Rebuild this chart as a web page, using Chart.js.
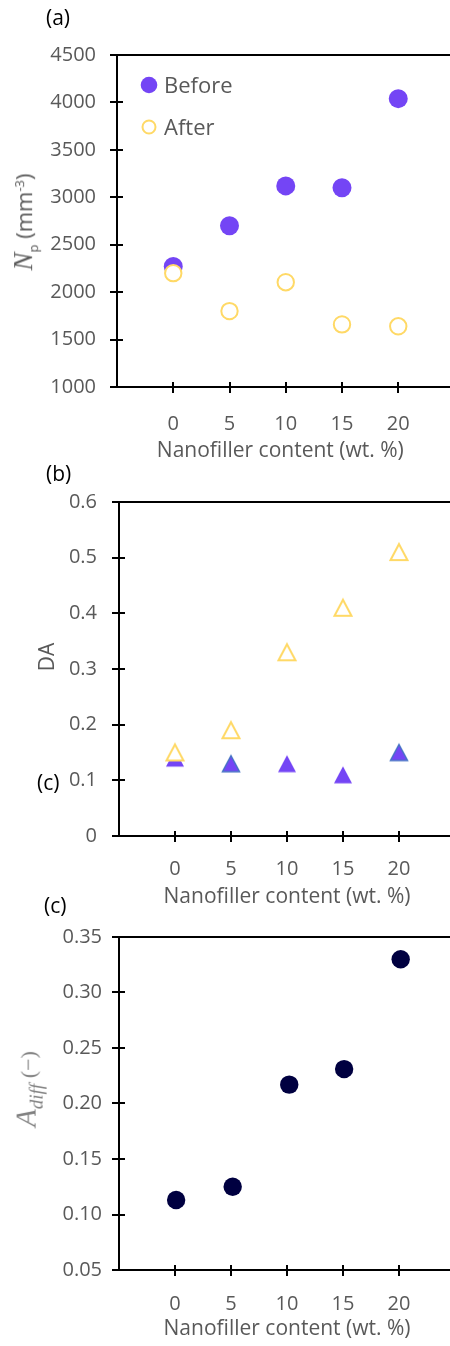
<!DOCTYPE html>
<html>
<head>
<meta charset="utf-8">
<script src="https://cdn.jsdelivr.net/npm/chart.js@4.4.1/dist/chart.umd.min.js"></script>
<style>
  html, body { margin: 0; padding: 0; background: #fff; overflow: hidden; }
  body { width: 450px; height: 1346px; position: relative; font-family: 'Open Sans', sans-serif; }
  canvas { position: absolute; left: 0; }
  .lbl { position: absolute; color: #000; font-size: 21px; line-height: 22px; white-space: nowrap; }
  .ytitle { position: absolute; color: #595959; font-size: 22px; line-height: 26px; white-space: nowrap;
            transform: translate(-50%, -50%) rotate(-90deg); }
  .ytitle .m { font-family: 'Liberation Serif', serif; font-style: italic; }
</style>
</head>
<body>
<canvas id="chartA" width="456" height="470" style="top:0"></canvas>
<canvas id="chartB" width="456" height="440" style="top:470px"></canvas>
<canvas id="chartC" width="456" height="436" style="top:910px"></canvas>

<div class="lbl" style="left:46px; top:6px">(a)</div>
<div class="lbl" style="left:46px; top:462px">(b)</div>
<div class="lbl" style="left:37px; top:771px">(c)</div>
<div class="lbl" style="left:44px; top:894px">(c)</div>

<div class="ytitle" style="left:26px; top:222px"><span class="m" style="font-size:27px">N</span><sub style="font-size:13px">p</sub> (mm<sup style="font-size:13px">-3</sup>)</div>
<div class="ytitle" style="left:46px; top:657px; font-size:21px">DA</div>
<div class="ytitle" style="left:31px; top:1089px; color:#808080"><span class="m" style="font-size:29px">A<sub style="font-size:19px">diff</sub></span> <span style="font-family:'Liberation Serif',serif; font-size:22px">(&minus;)</span></div>

<script>
// nanofiller loadings (wt. %)
const contents = [0, 5, 10, 15, 20];
// particle density N_p (mm^-3)
const npBefore = [2270, 2700, 3120, 3100, 4040];
const npAfter = [2200, 1800, 2105, 1660, 1640];
// degree of anisotropy
const daBefore = [0.14, 0.13, 0.13, 0.11, 0.15];
const daAfter = [0.15, 0.19, 0.33, 0.41, 0.51];
// A_diff, loadings as plotted
const adiffContents = [0.1, 5.15, 10.2, 15.1, 20.15];
const adiff = [0.113, 0.125, 0.217, 0.231, 0.330];

// y tick ranges per panel
const npTicks = { min: 1000, max: 4500, step: 500 };
const daTicks = { min: 0, max: 0.6, step: 0.1 };
const adiffTicks = { min: 0.05, max: 0.35, step: 0.05 };

// DA "before" points that carry a blue edge
const edgedAt = [5, 20];

const PURPLE = '#7445F5';
const GOLD = '#FFD966';
const NAVY = '#000040';
const GREY = '#595959';
const FONT = { family: 'Open Sans', size: 20 };
const TITLE_FONT = { family: 'Open Sans', size: 21 };
const X_TITLE = 'Nanofiller content (wt. %)';

function pairs(xs, ys) {
  return xs.map((x, i) => ({ x: x, y: ys[i] }));
}

// triangle marker as a canvas so it sits centred on the point
function triangleMark(w, h, fill, stroke, lw) {
  const c = document.createElement('canvas');
  c.width = 24; c.height = 24;
  const g = c.getContext('2d');
  g.beginPath();
  g.moveTo(12, 12 - h / 2);
  g.lineTo(12 + w / 2, 12 + h / 2);
  g.lineTo(12 - w / 2, 12 + h / 2);
  g.closePath();
  g.fillStyle = fill;
  g.fill();
  if (stroke) {
    g.strokeStyle = stroke;
    g.lineWidth = lw;
    g.stroke();
  }
  return c;
}
const triPurple = triangleMark(18, 17, PURPLE);
const triEdged = triangleMark(17, 16, PURPLE, '#4472C4', 1.5);
const triHollow = triangleMark(17, 16, '#fff', GOLD, 2);

// cross ticks on both axes plus the top frame line
const axisDecor = {
  id: 'axisDecor',
  beforeDatasetsDraw(chart) {
    const { ctx, chartArea: a, scales: { x, y } } = chart;
    ctx.save();
    ctx.strokeStyle = '#000';
    ctx.lineWidth = 2;
    ctx.beginPath();
    ctx.moveTo(a.left - 7, a.top);
    ctx.lineTo(a.right, a.top);
    y.ticks.forEach(t => {
      const py = Math.round(y.getPixelForValue(t.value));
      ctx.moveTo(a.left - 7, py);
      ctx.lineTo(a.left + 6, py);
    });
    x.ticks.forEach(t => {
      if (t.value < contents[0] || t.value > contents[contents.length - 1]) return;
      const px = Math.round(x.getPixelForValue(t.value));
      ctx.moveTo(px, a.bottom - 5);
      ctx.lineTo(px, a.bottom + 6);
    });
    ctx.stroke();
    ctx.restore();
  }
};

// legend drawn inside the plot area of panel (a)
const insideLegend = {
  id: 'insideLegend',
  afterDraw(chart) {
    const { ctx, chartArea: a } = chart;
    ctx.save();
    ctx.font = '22px "Open Sans"';
    ctx.textBaseline = 'middle';
    chart.data.datasets.forEach((ds, i) => {
      const cx = a.left + 32, cy = a.top + 30 + i * 42;
      ctx.beginPath();
      if (ds.borderWidth) {
        ctx.arc(cx, cy, 6.5, 0, Math.PI * 2);
        ctx.fillStyle = '#fff';
        ctx.fill();
        ctx.lineWidth = 2;
        ctx.strokeStyle = ds.borderColor;
        ctx.stroke();
      } else {
        ctx.arc(cx, cy, 8.3, 0, Math.PI * 2);
        ctx.fillStyle = ds.backgroundColor;
        ctx.fill();
      }
      ctx.fillStyle = GREY;
      ctx.fillText(ds.label, a.left + 47, cy + 2);
    });
    ctx.restore();
  }
};

function panelOptions(p) {
  return {
    responsive: false,
    animation: false,
    events: [],
    layout: { autoPadding: false, padding: { top: p.top, left: 0, right: p.right, bottom: 0 } },
    plugins: { legend: { display: false }, tooltip: { enabled: false } },
    scales: {
      x: {
        type: 'linear', min: -5, max: 25,
        // fixed box; no extra room for overhanging labels
        afterFit: s => { s.height = p.xHeight; s.paddingLeft = 0; s.paddingRight = 0; },
        grid: { display: false, drawTicks: false },
        border: { color: '#000', width: 2 },
        ticks: {
          stepSize: 5, padding: p.xPad, color: GREY, font: FONT,
          autoSkip: false, maxRotation: 0,
          callback: v => (v < contents[0] || v > contents[contents.length - 1]) ? '' : v
        },
        title: {
          display: true, text: p.xTitle || X_TITLE, color: GREY, font: TITLE_FONT,
          padding: { top: 0, bottom: p.titlePad }
        }
      },
      y: {
        type: 'linear', min: p.ticks.min, max: p.ticks.max,
        afterFit: s => { s.width = p.yWidth; s.paddingTop = 0; s.paddingBottom = 0; },
        grid: { display: false, drawTicks: false },
        border: { color: '#000', width: 2 },
        ticks: {
          stepSize: p.ticks.step, padding: p.yPad, color: GREY, font: FONT,
          autoSkip: false, callback: p.fmt
        }
      }
    }
  };
}

// (a) particle density before / after
new Chart(document.getElementById('chartA'), {
  type: 'scatter',
  data: {
    datasets: [
      { label: 'Before', data: pairs(contents, npBefore), backgroundColor: PURPLE,
        borderColor: PURPLE, borderWidth: 0, pointRadius: 9.5, order: 1 },
      { label: 'After', data: pairs(contents, npAfter), backgroundColor: '#fff',
        borderColor: GOLD, borderWidth: 2, pointRadius: 8.2, order: 0 }
    ]
  },
  options: panelOptions({ top: 55, right: 1.5, xHeight: 83, titlePad: 6, xPad: 25,
                          xTitle: X_TITLE + '  ',
                          yWidth: 117, yPad: 21, ticks: npTicks, fmt: v => String(v) }),
  plugins: [axisDecor, insideLegend]
});

// (b) degree of anisotropy
new Chart(document.getElementById('chartB'), {
  type: 'scatter',
  data: {
    datasets: [
      { label: 'Before', data: pairs(contents, daBefore), pointRadius: 9, order: 1,
        pointStyle: c => edgedAt.includes(contents[c.dataIndex]) ? triEdged : triPurple },
      { label: 'After', data: pairs(contents, daAfter), pointRadius: 9, order: 0,
        pointStyle: triHollow }
    ]
  },
  options: panelOptions({ top: 32, right: 1, xHeight: 74, titlePad: 0, xPad: 21,
                          yWidth: 119, yPad: 22, ticks: daTicks,
                          fmt: v => String(Math.round(v * 10) / 10) }),
  plugins: [axisDecor]
});

// (c) A_diff
new Chart(document.getElementById('chartC'), {
  type: 'scatter',
  data: {
    datasets: [
      { label: 'A_diff', data: pairs(adiffContents, adiff), backgroundColor: NAVY,
        borderColor: NAVY, borderWidth: 0, pointRadius: 9.2 }
    ]
  },
  options: panelOptions({ top: 27, right: 1, xHeight: 76, titlePad: 4, xPad: 22,
                          yWidth: 119, yPad: 17, ticks: adiffTicks,
                          fmt: v => v.toFixed(2) }),
  plugins: [axisDecor]
});
</script>
</body>
</html>
